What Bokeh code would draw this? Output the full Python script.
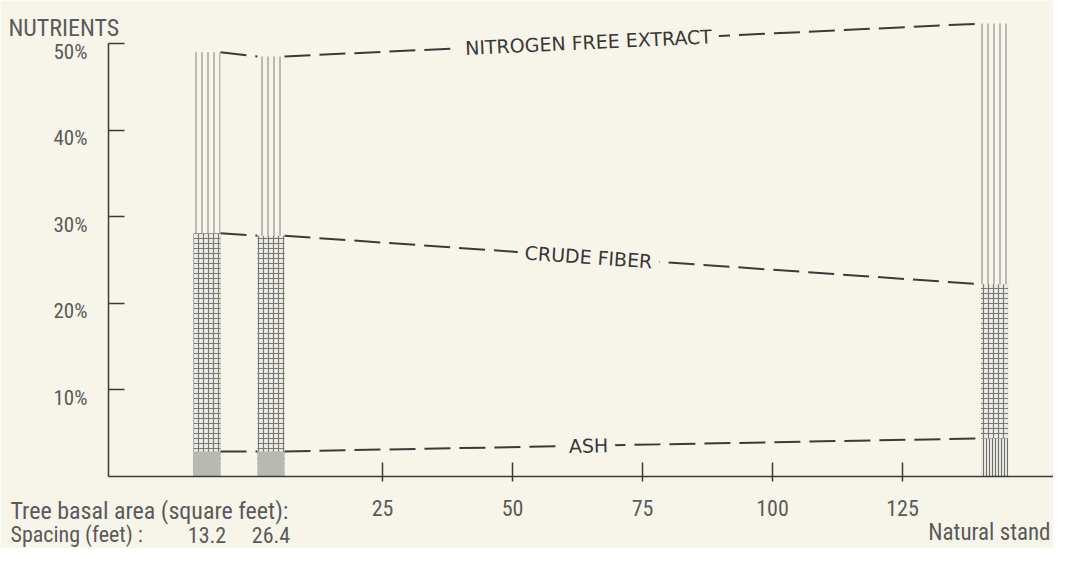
import math
from bokeh.plotting import figure
from bokeh.models import Range1d, Label, ColumnDataSource, FixedTicker
from bokeh.core.properties import value
from bokeh.embed import file_html
from bokeh.resources import INLINE

# ---- data ----
spacing_labels = ["13.2", "26.4"]
stand_label = "Natural stand"
bar_positions = [-8.75, 3.55, 142.7]      # bar centres on the basal-area axis
nitrogen_free_extract = [49.0, 48.5, 52.3]  # %
crude_fiber = [28.1, 27.8, 22.2]            # %
ash = [2.9, 2.9, 4.4]                       # %
basal_ticks = [25, 50, 75, 100, 125]
pct_ticks = [10, 20, 30, 40, 50]
pct_labels = ["10%", "20%", "30%", "40%", "50%"]

# ---- style / layout ----
BG = "#f7f5ea"
INK = "#3a3a3a"
GREY = "#5a5a5a"
WIDE = "DejaVu Sans"
NARROW = "Roboto Condensed"

W, H = 1053, 548
PPX, PPY = 5.2, 8.66
BASE_Y = 476
BAR_W = 5.2


def sx(px):
    # picture pixel -> basal-area units
    return (px - 252) / PPX


def sy(py):
    # picture pixel -> percent
    return (BASE_Y - py) / PPY


p = figure(width=W, height=H, output_backend="svg", toolbar_location=None,
           x_range=Range1d(sx(0), sx(W)), y_range=Range1d(sy(H), sy(0)),
           min_border=0)
p.background_fill_color = BG
p.border_fill_color = BG
p.outline_line_color = None
p.grid.visible = False

# y axis (line and ticks; its labels are set a little below each tick, as printed)
ya = p.yaxis[0]
ya.fixed_location = sx(108)
ya.ticker = FixedTicker(ticks=pct_ticks)
ya.bounds = (0, 50)
ya.major_tick_in = 16
ya.major_tick_out = 0
ya.minor_tick_line_color = None
ya.major_label_text_font_size = "0px"
ya.major_label_text_color = None
ya.axis_line_color = INK
ya.axis_line_width = 1.5
ya.major_tick_line_color = INK
ya.major_tick_line_width = 1.5
p.text(x=[sx(87)] * len(pct_ticks), y=pct_ticks, text=pct_labels,
       text_font=value(NARROW), text_font_size="21px", text_color=GREY,
       text_align="right", text_baseline="middle", y_offset=8)

# x axis
xa = p.xaxis[0]
xa.fixed_location = 0
xa.ticker = FixedTicker(ticks=basal_ticks)
xa.bounds = (sx(108), sx(W))
xa.major_tick_in = 14
xa.major_tick_out = 5
xa.minor_tick_line_color = None
xa.major_label_standoff = 18
xa.major_label_text_font = NARROW
xa.major_label_text_font_size = "22px"
xa.major_label_text_color = GREY
xa.axis_line_color = INK
xa.axis_line_width = 1.5
xa.major_tick_line_color = INK
xa.major_tick_line_width = 1.5

src = ColumnDataSource(dict(x=bar_positions, nfe=nitrogen_free_extract,
                            cf=crude_fiber, ash=ash))

# nitrogen free extract: vertical lines
p.vbar(x="x", width=BAR_W, bottom=0, top="nfe", source=src,
       fill_color=BG, line_color=None,
       hatch_pattern="vertical_line", hatch_scale=6, hatch_weight=1.2,
       hatch_color="#8f8f8f")
# crude fiber: dotted grid
p.vbar(x="x", width=BAR_W, bottom=0, top="cf", source=src,
       fill_color="#ecebe4", line_color=None,
       hatch_pattern="cross", hatch_scale=5, hatch_weight=1.2,
       hatch_color="#777777")
# ash
ash_src_l = ColumnDataSource(dict(x=bar_positions[:2], ash=ash[:2]))
ash_src_r = ColumnDataSource(dict(x=bar_positions[2:], ash=ash[2:]))
p.vbar(x="x", width=BAR_W, bottom=0, top="ash", source=ash_src_l,
       fill_color="#b9b9b3", line_color=None)
p.vbar(x="x", width=BAR_W, bottom=0, top="ash", source=ash_src_r,
       fill_color="#e6e5de", line_color=None,
       hatch_pattern="vertical_line", hatch_scale=3, hatch_weight=1,
       hatch_color="#6f6f6f")

# connecting dashed lines with labels
series = [("NITROGEN FREE EXTRACT", nitrogen_free_extract),
          ("CRUDE FIBER", crude_fiber),
          ("ASH", ash)]
LABEL_X = sx(588)
for name, vals in series:
    x0s, x1s, y0s, y1s = [], [], [], []
    for i in range(len(bar_positions) - 1):
        x0s.append(bar_positions[i] + BAR_W / 2)
        x1s.append(bar_positions[i + 1] - BAR_W / 2)
        y0s.append(vals[i])
        y1s.append(vals[i + 1])
    p.segment(x0=x0s, y0=y0s, x1=x1s, y1=y1s, line_color=INK,
              line_width=2, line_dash="26 9")
    xa_, xb_, ya_, yb_ = x0s[-1], x1s[-1], y0s[-1], y1s[-1]
    t = (LABEL_X - xa_) / (xb_ - xa_)
    ly = ya_ + t * (yb_ - ya_)
    ang = math.atan2((yb_ - ya_) * PPY, (xb_ - xa_) * PPX)
    p.add_layout(Label(x=LABEL_X, y=ly, text=name, angle=ang,
                       text_align="center", text_baseline="middle",
                       text_font=WIDE, text_font_size="19px",
                       text_color="#383838", background_fill_color=BG,
                       padding=7))

# texts around the axes
p.add_layout(Label(x=sx(8), y=sy(27), text="NUTRIENTS", text_font=NARROW,
                   text_font_size="24px", text_color=GREY,
                   text_baseline="alphabetic", text_align="left"))
p.add_layout(Label(x=sx(10), y=sy(510), text="Tree basal area (square feet):",
                   text_font=NARROW, text_font_size="24px", text_color=GREY,
                   text_baseline="middle", text_align="left"))
p.add_layout(Label(x=sx(10), y=sy(534), text="Spacing (feet) :",
                   text_font=NARROW, text_font_size="22px", text_color=GREY,
                   text_baseline="middle", text_align="left"))
for pos, lab in zip(bar_positions[:2], spacing_labels):
    p.add_layout(Label(x=pos, y=sy(534), text=lab, text_font=NARROW,
                       text_font_size="22px", text_color=GREY,
                       text_baseline="middle", text_align="center"))
p.add_layout(Label(x=sx(1050), y=sy(532), text=stand_label,
                   text_font=NARROW, text_font_size="23px", text_color=GREY,
                   text_baseline="middle", text_align="right"))

open("out.html", "w").write(file_html(p, INLINE))
